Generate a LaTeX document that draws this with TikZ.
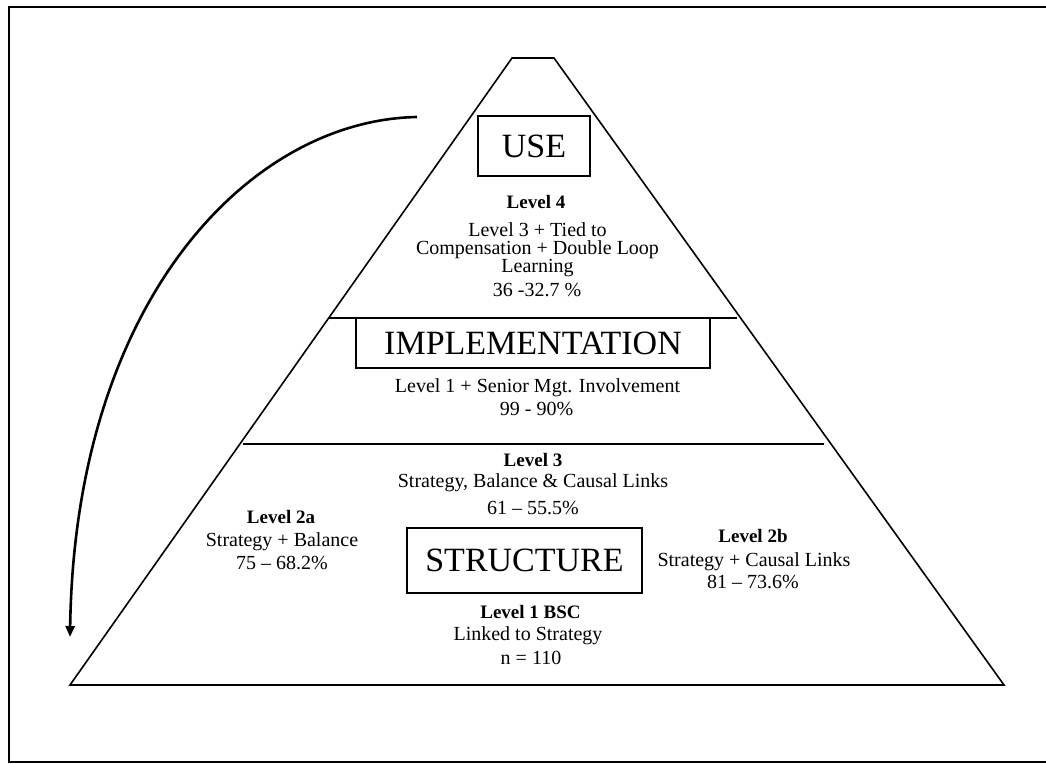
\documentclass[tikz,border=0pt]{standalone}
\usepackage{fontspec}
\setmainfont{Liberation Serif}
\usetikzlibrary{arrows.meta}
\begin{document}
\begin{tikzpicture}[x=1pt,y=-1pt,
  edge/.style={line width=1.6pt, line join=miter},
  tag/.style={draw, line width=1.6pt, inner sep=0pt, font=\fontsize{34}{40}\selectfont},
  txt/.style={anchor=base, inner sep=0pt, font=\fontsize{20}{24}\selectfont},
  hdr/.style={anchor=base, inner sep=0pt, font=\fontsize{19}{23}\selectfont\bfseries}]
\useasboundingbox (0,0) rectangle (1046,763);

% open frame
\draw[line width=2pt] (1046,7) -- (9,7) -- (9,761.5) -- (1046,761.5);

% pyramid outline
\coordinate (apexL) at (512,58);
\coordinate (apexR) at (554,58);
\coordinate (baseR) at (1004,685);
\coordinate (baseL) at (70,685);
\draw[edge] (apexL) -- (apexR) -- (baseR) -- (baseL) -- cycle;

% tier dividers
\coordinate (d1l) at (329,318);
\coordinate (d1r) at (737,318);
\coordinate (d2l) at (243,444);
\coordinate (d2r) at (824,444);
\draw[edge] (d1l) -- (d1r);
\draw[edge] (d2l) -- (d2r);

% tier titles
\node[tag, minimum width=112pt, minimum height=60pt] (use) at (534,146) {USE};
\node[tag, minimum width=354pt, minimum height=50pt] (impl) at (533,343) {IMPLEMENTATION};
\node[tag, minimum width=235pt, minimum height=65pt] (struct) at (524.5,560.5) {STRUCTURE};

% level 4
\node[hdr] (l4h) at (536,208) {Level 4};
\node[txt] (l4a) at (537.5,236) {Level 3 + Tied to};
\node[txt] (l4b) at (537.5,254) {Compensation + Double Loop};
\node[txt] (l4c) at (537.5,272) {Learning};
\node[txt] (l4d) at (537,296) {36 -32.7 \%};

% implementation
\node[txt] (ima) at (537.5,392) {Level 1 + Senior Mgt. Involvement};
\node[txt] (imb) at (536.5,415) {99 - 90\%};

% level 3
\node[hdr] (l3h) at (533,466) {Level 3};
\node[txt] (l3a) at (533,487) {Strategy, Balance \& Causal Links};
\node[txt] (l3b) at (533,514) {61 – 55.5\%};

% level 2a
\node[hdr] (l2ah) at (281,523) {Level 2a};
\node[txt] (l2aa) at (282,546) {Strategy + Balance};
\node[txt] (l2ab) at (282,569) {75 – 68.2\%};

% level 2b
\node[hdr] (l2bh) at (753,542) {Level 2b};
\node[txt] (l2ba) at (754,566) {Strategy + Causal Links};
\node[txt] (l2bb) at (753,588) {81 – 73.6\%};

% level 1
\node[hdr] (l1h) at (530.5,618) {Level 1 BSC};
\node[txt] (l1a) at (528,640) {Linked to Strategy};
\node[txt] (l1b) at (531,664) {n = 110};

% feedback arrow
\coordinate (arrowfrom) at (417,117);
\coordinate (arrowto) at (70,637);
\draw[line width=2.6pt, -{Triangle[length=11pt,width=9pt]}]
  (arrowfrom) .. controls (250,120) and (75,300) .. (arrowto);
\end{tikzpicture}
\end{document}
